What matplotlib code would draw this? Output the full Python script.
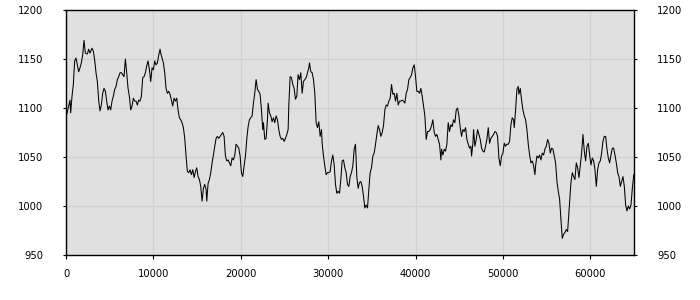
import numpy as np
import matplotlib
matplotlib.use("Agg")
import matplotlib.pyplot as plt

# traced series: sample positions and values
x_pos = [
    0, 305, 458, 534, 687, 840, 992, 1145, 1298, 1450, 1603, 1756, 1908, 2061, 2214, 2443,
    2595, 2748, 2977, 3130, 3282, 3435, 3588, 3740, 3893, 4046, 4198, 4351, 4504, 4656,
    4809, 4962, 5115, 5267, 5420, 5573, 5725, 5878, 6031, 6183, 6336, 6489, 6641, 6794,
    6947, 7100, 7252, 7405, 7558, 7710, 7863, 8016, 8168, 8321, 8474, 8626, 8779, 8932,
    9084, 9237, 9390, 9543, 9695, 9848, 10001, 10153, 10306, 10459, 10611, 10764,
    10839, 10992, 11145, 11297, 11450, 11603, 11755, 11908, 12061, 12213, 12366, 12519,
    12672, 12824, 12977, 13130, 13282, 13435, 13588, 13740, 13893, 14046, 14198, 14351,
    14504, 14656, 14809, 14962, 15114, 15267, 15420, 15572, 15725, 15878, 16030, 16107,
    16260, 16412, 16565, 16718, 16870, 17023, 17176, 17328, 17481, 17634, 17786, 17939,
    18092, 18244, 18397, 18550, 18702, 18855, 19008, 19160, 19313, 19466, 19618, 19771,
    19924, 20077, 20229, 20382, 20535, 20687, 20840, 20993, 21145, 21298, 21451,
    21602, 21755, 21908, 22060, 22213, 22366, 22518, 22595, 22747, 22900, 23053, 23129,
    23282, 23435, 23587, 23740, 23893, 24045, 24198, 24351, 24503, 24656, 24809, 24961,
    25114, 25267, 25419, 25496, 25648, 25801, 25954, 26106, 26259, 26412, 26564, 26717,
    26870, 27023, 27175, 27328, 27481, 27633, 27786, 27862, 28015, 28168, 28320, 28473,
    28626, 28778, 28931, 29084, 29236, 29313, 29466, 29618, 29771, 29924, 30076, 30229,
    30382, 30534, 30687, 30840, 30992, 31145, 31298, 31450, 31603, 31756, 31908, 32061,
    32214,
    32365, 32518, 32671, 32823, 32976, 33129, 33281, 33434, 33587, 33739, 33892, 34045,
    34198, 34350, 34503, 34656, 34808, 34961, 35114, 35266, 35419, 35572, 35724, 35877,
    36030, 36182, 36335, 36488, 36640, 36793, 36946, 37098, 37251, 37404, 37556, 37709,
    37862, 38014, 38167, 38320, 38473, 38625, 38778, 38931, 39083, 39236, 39389, 39541,
    39694, 39847, 39999, 40152, 40305, 40457, 40610, 40763, 40915, 41068, 41221, 41373,
    41526, 41679, 41831, 41984, 42137, 42290, 42442, 42595, 42748, 42900,
    42976, 43128, 43281, 43434, 43586, 43739, 43892, 44044, 44197, 44350, 44502, 44655,
    44808, 44961, 45113, 45266, 45419, 45571, 45724, 45877, 46029, 46182, 46335, 46411,
    46564, 46640, 46793, 46946, 47098, 47251, 47404, 47556, 47709, 47862, 48014, 48167,
    48320, 48472, 48625, 48778, 48930, 49083, 49236, 49388, 49541, 49694, 49846, 49999,
    50152, 50304, 50457, 50610, 50762, 50915, 51068, 51220, 51297, 51450, 51602, 51755,
    51831, 51984, 52137, 52289, 52442, 52595, 52747, 52900, 53053, 53205, 53358, 53511,
    53663,
    53739, 53891, 54044, 54197, 54349, 54502, 54655, 54807, 54960, 55113, 55265, 55418,
    55571, 55724, 55876, 56029, 56182, 56334, 56487, 56640, 56792, 56945, 57098, 57250,
    57403, 57479, 57632, 57785, 57937, 58090, 58243, 58395, 58548, 58701, 58853, 59006,
    59159, 59311, 59464, 59617, 59769, 59922, 60075, 60228, 60380, 60533, 60686, 60838,
    60991, 61144, 61296, 61449, 61602, 61754, 61907, 62060, 62212, 62365, 62518, 62670,
    62823, 62976, 63128, 63281, 63434, 63586, 63739, 63892, 64044, 64197, 64350, 64502,
    64655, 64808, 64980,
]
values = [
    1090, 1102, 1108, 1095, 1112, 1124, 1148, 1151, 1144, 1137, 1141, 1146, 1154, 1169, 1156, 1155,
    1160, 1156, 1161, 1158, 1149, 1136, 1127, 1108, 1097, 1103, 1115, 1120, 1117, 1107,
    1098, 1102, 1098, 1107, 1112, 1119, 1122, 1129, 1132, 1136, 1136, 1134, 1132, 1150,
    1136, 1120, 1112, 1098, 1102, 1110, 1107, 1107, 1103, 1108, 1107, 1112, 1131, 1132,
    1136, 1143, 1148, 1139, 1127, 1141, 1139, 1148, 1144, 1146, 1154, 1160,
    1156, 1151, 1146, 1136, 1120, 1115, 1117, 1114, 1108, 1102, 1110, 1107,
    1110, 1098, 1090, 1088, 1085, 1080, 1069, 1051, 1035, 1034, 1037, 1032,
    1037, 1029, 1035, 1039, 1030, 1027, 1020, 1005, 1018, 1022, 1017, 1005,
    1023, 1027, 1034, 1044, 1052, 1061, 1069, 1071, 1069, 1071, 1073, 1075,
    1071, 1051, 1046, 1047, 1044, 1041, 1049, 1047, 1052, 1063, 1061, 1059,
    1051, 1034, 1030, 1041, 1051, 1068, 1081, 1088, 1090, 1092, 1105,
    1115, 1129, 1119, 1117, 1114, 1098, 1078, 1085, 1068, 1069, 1088, 1105,
    1095, 1092, 1086, 1090, 1085, 1092, 1088, 1078, 1071, 1068, 1069, 1066,
    1069, 1073, 1078, 1102, 1132, 1131, 1124, 1120, 1109, 1112, 1134, 1129,
    1136, 1115, 1127, 1129, 1131, 1136, 1141, 1146, 1137, 1136, 1129, 1115,
    1085, 1080, 1086, 1071, 1078, 1064, 1051, 1041, 1032, 1034, 1034, 1035,
    1046, 1052, 1042, 1022, 1013, 1015, 1013, 1027, 1046, 1047, 1039, 1034,
    1022,
    1020, 1030, 1034, 1041, 1058, 1063, 1030, 1018, 1024, 1025, 1020, 1010,
    998, 1001, 998, 1017, 1034, 1039, 1051, 1054, 1063, 1073, 1082, 1078,
    1071, 1075, 1082, 1098, 1103, 1102, 1107, 1110, 1124, 1114, 1115, 1107,
    1115, 1103, 1107, 1107, 1108, 1107, 1105, 1115, 1119, 1129, 1131, 1134,
    1141, 1144, 1132, 1117, 1117, 1115, 1120, 1112, 1102, 1092, 1068, 1076,
    1076, 1078, 1082, 1088, 1075, 1071, 1073, 1068, 1063, 1047,
    1058, 1052, 1058, 1056, 1063, 1085, 1076, 1083, 1081, 1088, 1085, 1098,
    1100, 1092, 1080, 1071, 1078, 1076, 1080, 1068, 1063, 1059, 1061, 1051,
    1064, 1078, 1061, 1068, 1078, 1073, 1068, 1059, 1056, 1055, 1061, 1068,
    1080, 1064, 1069, 1071, 1073, 1076, 1075, 1071, 1049, 1041, 1051, 1054,
    1064, 1061, 1063, 1063, 1066, 1083, 1090, 1088, 1080, 1098, 1119, 1122,
    1114, 1120, 1108, 1098, 1092, 1088, 1078, 1063, 1052, 1044, 1046, 1041,
    1032,
    1041, 1051, 1049, 1052, 1047, 1054, 1052, 1058, 1061, 1068, 1064, 1054,
    1059, 1058, 1051, 1044, 1025, 1015, 1007, 986, 967, 971, 973, 976,
    974, 984, 1003, 1024, 1034, 1030, 1027, 1044, 1039, 1029, 1041, 1054,
    1073, 1056, 1046, 1061, 1064, 1052, 1042, 1049, 1046, 1037, 1020, 1037,
    1044, 1046, 1054, 1066, 1071, 1071, 1058, 1049, 1044, 1052, 1059, 1059,
    1052, 1044, 1034, 1030, 1020, 1025, 1030, 1020, 1001, 995, 1000, 997,
    1001, 1018, 1032,
]
x_ticks = [0, 10000, 20000, 30000, 40000, 50000, 60000]
y_ticks = [950, 1000, 1050, 1100, 1150, 1200]

plt.rcParams["font.family"] = ["DejaVu Sans"]
fig = plt.figure(figsize=(7, 3), dpi=100)
ax = fig.add_axes([66 / 700, 45 / 300, 568 / 700, 245 / 300])
ax.set_facecolor("#e0e0e0")
ax.plot(x_pos, values, color="black", lw=0.75)
ax.set_xlim(0, 65000)
ax.set_ylim(950, 1200)
ax.set_xticks(x_ticks)
ax.set_yticks(y_ticks)
ax.grid(True, color="#d0d0d0", lw=0.9)
ax.set_axisbelow(True)
for s in ax.spines.values():
    s.set_color("black")
    s.set_linewidth(1.0)
ax.tick_params(axis="y", which="both", left=True, right=True, labelleft=True,
               labelright=True, direction="out", length=2.5, pad=14, labelsize=7.2)
ax.tick_params(axis="x", direction="out", length=3, pad=7, labelsize=7.2)
fig.savefig("out.png", dpi=100)
